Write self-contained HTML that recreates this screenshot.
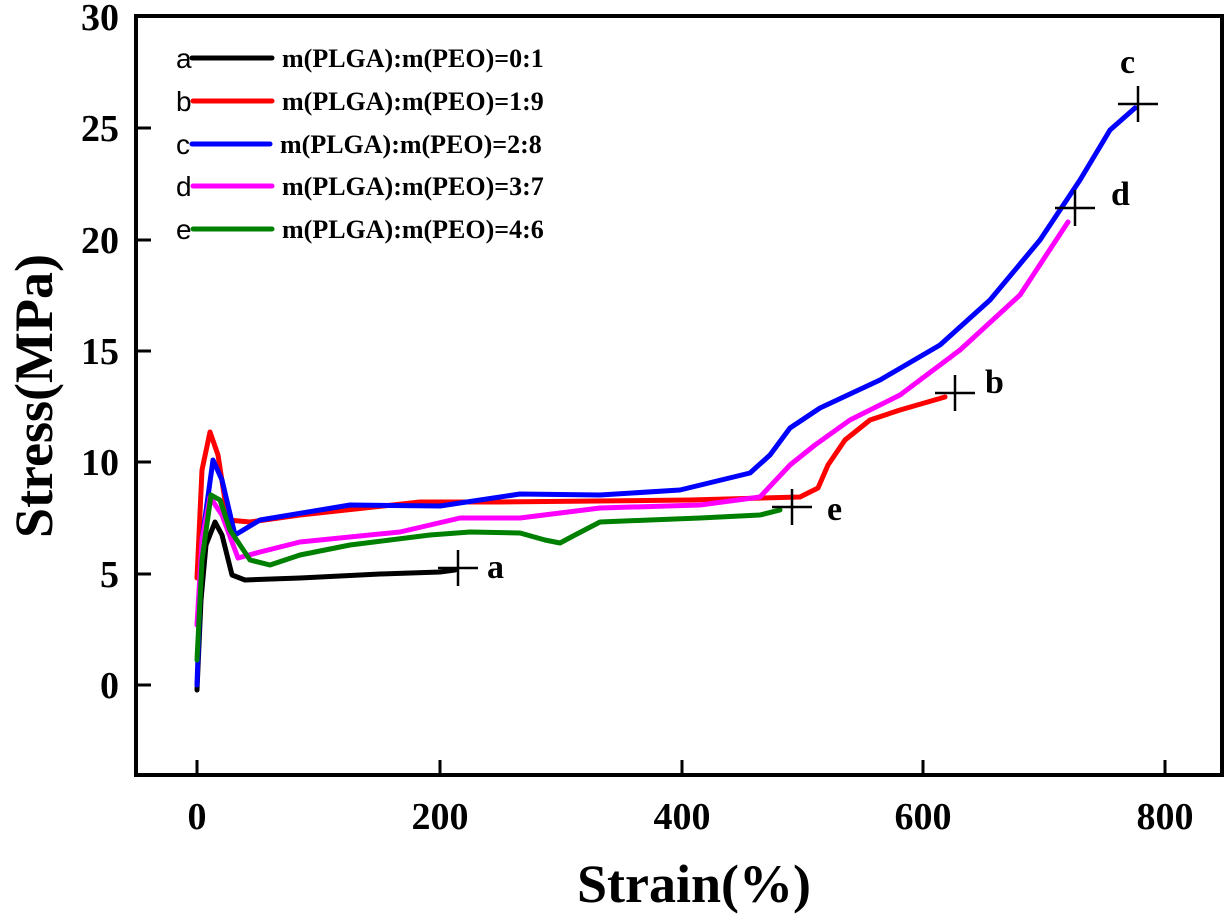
<!DOCTYPE html><html><head><style>body{margin:0;background:#fff}svg{display:block}</style></head><body>
<svg width="1228" height="917" xmlns="http://www.w3.org/2000/svg" font-family="Liberation Serif, serif" font-weight="bold">
<rect x="136" y="16" width="1086" height="759" fill="none" stroke="#000" stroke-width="4"/>
<g stroke="#000" stroke-width="3">
<line x1="136" y1="128" x2="151" y2="128"/><line x1="136" y1="240" x2="151" y2="240"/><line x1="136" y1="351" x2="151" y2="351"/><line x1="136" y1="462" x2="151" y2="462"/><line x1="136" y1="574" x2="151" y2="574"/><line x1="136" y1="685" x2="151" y2="685"/>
<line x1="197" y1="775" x2="197" y2="760"/><line x1="440" y1="775" x2="440" y2="760"/><line x1="682" y1="775" x2="682" y2="760"/><line x1="923" y1="775" x2="923" y2="760"/><line x1="1165" y1="775" x2="1165" y2="760"/>
</g>
<g font-size="38" text-anchor="end">
<text x="119" y="30">30</text><text x="119" y="141">25</text><text x="119" y="253">20</text><text x="119" y="364">15</text><text x="119" y="475">10</text><text x="119" y="587">5</text><text x="119" y="698">0</text>
</g>
<g font-size="38" text-anchor="middle">
<text x="197" y="829">0</text><text x="440" y="829">200</text><text x="682" y="829">400</text><text x="923" y="829">600</text><text x="1165" y="829">800</text>
</g>
<text x="694" y="902" font-size="54" text-anchor="middle">Strain(%)</text>
<text transform="translate(52,396) rotate(-90)" font-size="54" text-anchor="middle">Stress(MPa)</text>
<g fill="none" stroke-width="5" stroke-linejoin="round" stroke-linecap="round">
<polyline stroke="#000" points="197,690 201,600 206,545 215,522 222,535 232,575 245,580 300,578 380,574 440,572 455,570"/>
<polyline stroke="#ff0000" points="197,578 202,470 210,432 218,455 228,520 250,522 300,515 420,502 500,502 690,500 800,497 818,488 828,465 845,440 870,420 900,410 945,397"/>
<polyline stroke="#0000ff" points="197,685 202,540 213,460 222,480 235,535 260,520 350,505 440,506 520,494 600,495 680,490 750,473 770,455 790,428 820,408 880,380 940,345 990,300 1040,240 1080,180 1110,130 1135,108"/>
<polyline stroke="#ff00ff" points="197,625 202,540 210,497 222,515 238,558 260,552 300,542 400,532 460,518 520,518 600,508 700,505 760,497 790,465 815,445 850,420 900,395 960,350 1020,295 1068,222"/>
<polyline stroke="#008000" points="197,660 202,560 211,495 220,500 230,530 250,560 270,565 300,555 350,545 430,535 470,532 520,533 545,540 560,543 575,535 600,522 650,520 700,518 760,515 780,510"/>
</g>
<g stroke="#000" stroke-width="2.5">
<line x1="438" y1="568" x2="478" y2="568"/><line x1="458" y1="550" x2="458" y2="586"/>
<line x1="935" y1="393" x2="975" y2="393"/><line x1="955" y1="375" x2="955" y2="411"/>
<line x1="1118" y1="104" x2="1158" y2="104"/><line x1="1138" y1="86" x2="1138" y2="122"/>
<line x1="1055" y1="208" x2="1095" y2="208"/><line x1="1075" y1="190" x2="1075" y2="226"/>
<line x1="772" y1="507" x2="812" y2="507"/><line x1="792" y1="489" x2="792" y2="525"/>
</g>
<g font-size="34">
<text x="487" y="578">a</text><text x="985" y="393">b</text><text x="1120" y="73">c</text><text x="1111" y="205">d</text><text x="827" y="520">e</text>
</g>
<g font-family="Liberation Sans, sans-serif" font-weight="normal" font-size="28">
<text x="176" y="68">a</text><text x="176" y="111">b</text><text x="176" y="154">c</text><text x="176" y="196">d</text><text x="176" y="239">e</text>
</g>
<g stroke-width="5" stroke-linecap="round">
<line x1="192" y1="58" x2="272" y2="58" stroke="#000"/><line x1="193" y1="101" x2="272" y2="101" stroke="#ff0000"/><line x1="192" y1="144" x2="270" y2="144" stroke="#0000ff"/><line x1="193" y1="186" x2="272" y2="186" stroke="#ff00ff"/><line x1="193" y1="229" x2="272" y2="229" stroke="#008000"/>
</g>
<g font-size="26">
<text x="282" y="67">m(PLGA):m(PEO)=0:1</text><text x="282" y="110">m(PLGA):m(PEO)=1:9</text><text x="280" y="153">m(PLGA):m(PEO)=2:8</text><text x="282" y="195">m(PLGA):m(PEO)=3:7</text><text x="282" y="238">m(PLGA):m(PEO)=4:6</text>
</g>
</svg>
</body></html>
